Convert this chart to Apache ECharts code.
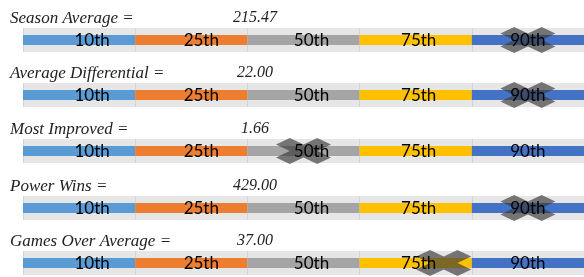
<!DOCTYPE html>
<html>
<head>
<meta charset="utf-8">
<script src="https://cdn.jsdelivr.net/npm/echarts@6/dist/echarts.min.js"></script>
<style>
  html, body { margin: 0; padding: 0; background: #fff; }
  #main { width: 584px; height: 277px; }
</style>
</head>
<body>
<div id="main"></div>
<script>
// percentile bands, one unit wide each
const categories = ['10th', '25th', '50th', '75th', '90th'];
const segmentValues = [1, 1, 1, 1, 1];
const segmentColors = ['#5b9bd5', '#ed7d31', '#a5a5a5', '#ffc000', '#4472c4'];

// one row per metric
const metrics = ['Season Average =', 'Average Differential =', 'Most Improved =', 'Power Wins =', 'Games Over Average ='];
const metricValues = ['215.47', '22.00', '1.66', '429.00', '37.00'];
const markerPos = [4.5, 4.5, 2.5, 4.5, 3.75];

const chart = echarts.init(document.getElementById('main'), null, { renderer: 'canvas' });

const rowTop = [28, 83, 139, 196, 251];
const labelShift = [13, 10, 8, 3, 0]; // labels sit a bit right of centre in the original
const xPath = 'path://M0,25 L25,0 L50,25 L75,0 L100,25 L75,50 L100,75 L75,100 L50,75 L25,100 L0,75 L25,50 Z';

const titles = [], grids = [], xAxes = [], yAxes = [], series = [];

metrics.forEach(function (name, i) {
  titles.push({
    text: name, left: 10, top: rowTop[i] - 18, padding: 0,
    textStyle: { fontFamily: 'Liberation Serif', fontStyle: 'italic', fontWeight: 'normal', fontSize: 17, color: '#222' }
  });
  titles.push({
    text: metricValues[i], left: 255, top: rowTop[i] - 18, padding: 0, textAlign: 'center',
    textStyle: { fontFamily: 'Liberation Serif', fontStyle: 'italic', fontWeight: 'normal', fontSize: 16, color: '#222' }
  });
  grids.push({
    left: 23, right: 0, top: rowTop[i], height: 24,
    show: true, backgroundColor: '#e6e6e6', borderWidth: 0
  });
  xAxes.push({
    gridIndex: i, type: 'value', min: 0, max: 5, interval: 1,
    axisLabel: { show: false }, axisLine: { show: false }, axisTick: { show: false },
    splitLine: { show: true, lineStyle: { color: '#d4d4d4', width: 1 } }
  });
  yAxes.push({ gridIndex: i, type: 'category', data: ['r'], show: false });

  // coloured segments
  categories.forEach(function (c, k) {
    series.push({
      type: 'bar', name: c, stack: 'seg' + i, xAxisIndex: i, yAxisIndex: i,
      barWidth: 10, z: 2, silent: true,
      itemStyle: { color: segmentColors[k] },
      data: [segmentValues[k]]
    });
  });

  // marker
  series.push({
    type: 'scatter', xAxisIndex: i, yAxisIndex: i, z: 3, silent: true,
    symbol: xPath, symbolSize: [55, 26],
    itemStyle: { color: 'rgba(56,56,56,0.82)' },
    data: [[markerPos[i], 0]]
  });

  // transparent copy of the segments just to carry the labels above the marker
  categories.forEach(function (c, k) {
    series.push({
      type: 'bar', name: c + ' label', stack: 'lbl' + i, xAxisIndex: i, yAxisIndex: i,
      barWidth: 10, barGap: '-100%', z: 5, silent: true,
      itemStyle: { color: 'rgba(0,0,0,0)' },
      label: {
        show: true, position: 'inside', formatter: c, offset: [labelShift[k], 1],
        fontFamily: 'Lato', fontSize: 17, color: '#000'
      },
      data: [segmentValues[k]]
    });
  });
});

chart.setOption({
  animation: false,
  backgroundColor: '#fff',
  title: titles,
  grid: grids,
  xAxis: xAxes,
  yAxis: yAxes,
  series: series
});
</script>
</body>
</html>
